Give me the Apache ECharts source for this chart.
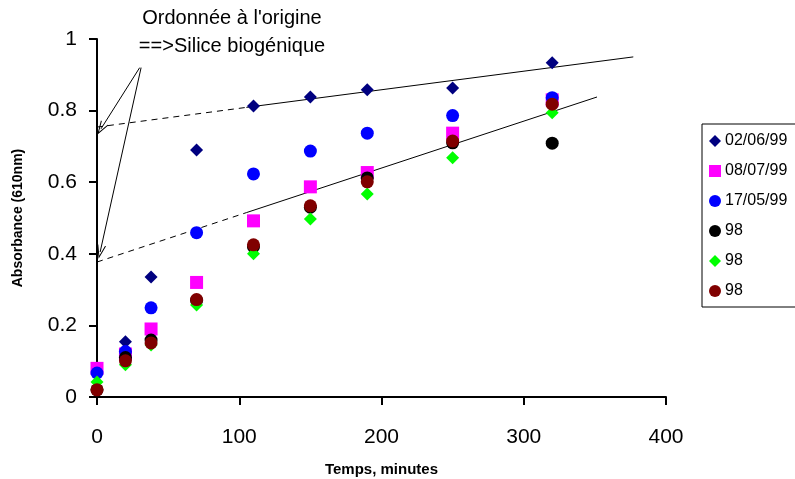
<!DOCTYPE html>
<html>
<head>
<meta charset="utf-8">
<script src="https://cdn.jsdelivr.net/npm/echarts@6/dist/echarts.min.js"></script>
<style>
  html, body { margin: 0; padding: 0; background: #fff; overflow: hidden; }
  #chart { width: 795px; height: 479px; }
</style>
</head>
<body>
<div id="chart"></div>
<script>
// temps (minutes)
const times = [0, 20, 38, 70, 110, 150, 190, 250, 320]

// absorbance per series (null = not visible)
const s020699 = [null, 0.154, 0.335, 0.69, 0.813, 0.838, 0.858, 0.863, 0.934]
const s080799 = [0.08, 0.12, 0.19, 0.32, 0.492, 0.587, 0.627, 0.737, 0.83]
const s170599 = [0.067, 0.127, 0.249, 0.459, 0.623, 0.687, 0.737, 0.786, 0.836]
const s98a = [0.02, 0.11, 0.159, 0.27, 0.42, 0.53, 0.612, 0.71, 0.709]
const s98b = [0.042, 0.09, 0.145, 0.257, 0.4, 0.497, 0.567, 0.668, 0.794]
const s98c = [0.02, 0.101, 0.151, 0.272, 0.425, 0.534, 0.601, 0.715, 0.818]

const seriesNames = ['02/06/99', '08/07/99', '17/05/99', '98', '98', '98']

// droites de tendance : [x, y]
const upperDashed = [[0, 0.754], [105, 0.809]]
const upperSolid = [[105, 0.809], [377, 0.95]]
const lowerDashed = [[0, 0.377], [105, 0.515]]
const lowerSolid = [[105, 0.515], [351.5, 0.838]]

// flèches de l'annotation
const arrowFrom = [30, 0.92]
const arrowTo1 = [2.8, 0.749]
const arrowTo2 = [2.2, 0.405]

// pointe de flèche ouverte (V)
const openArrow = 'path://M5,0 L10,13 L8.8,13 L5,3 L1.2,13 L0,13 Z'

const toPoints = (vals) => times.map((t, i) => [t, vals[i]]).filter(p => p[1] !== null)

const chart = echarts.init(document.getElementById('chart'))

function scatter(name, vals, symbol, size, color) {
  return {
    name: name,
    type: 'scatter',
    symbol: symbol,
    symbolSize: size,
    itemStyle: { color: color, opacity: 1 },
    data: toPoints(vals),
    z: 3
  }
}

function fitLine(data, dashed) {
  return {
    type: 'line',
    data: data,
    symbol: 'none',
    silent: true,
    lineStyle: { color: '#000', width: 1, type: dashed ? [6, 5] : 'solid' },
    z: 2
  }
}

chart.setOption({
  backgroundColor: '#fff',
  animation: false,
  textStyle: { fontFamily: 'Liberation Sans, Arial, sans-serif' },
  grid: {
    left: 97,
    top: 39,
    width: 569,
    height: 358,
    containLabel: false,
    outerBoundsMode: 'none'
  },
  graphic: [{
    type: 'text',
    x: 232,
    y: 4,
    style: {
      text: "Ordonnée à l'origine\n==>Silice biogénique",
      font: '20px Liberation Sans, Arial, sans-serif',
      fill: '#000',
      lineHeight: 28,
      align: 'center'
    }
  }],
  legend: {
    orient: 'vertical',
    left: 702,
    top: 124,
    padding: [9, 60, 8, 7],
    itemGap: 14,
    itemWidth: 12,
    itemHeight: 12,
    borderColor: '#000',
    borderWidth: 1,
    borderRadius: 0,
    textStyle: { fontSize: 16, color: '#000', padding: [0, 0, 0, -1] },
    data: [
      { name: '02/06/99', icon: 'diamond' },
      { name: '08/07/99', icon: 'rect' },
      { name: '17/05/99', icon: 'circle' },
      { name: '98', icon: 'circle' },
      { name: '98 ', icon: 'diamond' },
      { name: '98  ', icon: 'circle' }
    ]
  },
  xAxis: {
    type: 'value',
    min: 0,
    max: 400,
    interval: 100,
    name: 'Temps, minutes',
    nameLocation: 'middle',
    nameGap: 65,
    nameTextStyle: { fontSize: 15, fontWeight: 'bold', color: '#000' },
    axisLine: { onZero: false, lineStyle: { color: '#000', width: 2 } },
    axisTick: { show: true, length: 8, lineStyle: { color: '#000', width: 2 } },
    axisLabel: { fontSize: 21, color: '#000', margin: 30 },
    splitLine: { show: false }
  },
  yAxis: {
    type: 'value',
    min: 0,
    max: 1,
    interval: 0.2,
    name: 'Absorbance (610nm)',
    nameLocation: 'middle',
    nameRotate: 90,
    nameGap: 72,
    nameTextStyle: { fontSize: 14, fontWeight: 'bold', color: '#000' },
    axisLine: { show: true, onZero: false, lineStyle: { color: '#000', width: 2 } },
    axisTick: { show: true, length: 8, lineStyle: { color: '#000', width: 2 } },
    axisLabel: { fontSize: 21, color: '#000', margin: 20 },
    splitLine: { show: false }
  },
  series: [
    fitLine(upperDashed, true),
    fitLine(upperSolid, false),
    fitLine(lowerDashed, true),
    Object.assign(fitLine(lowerSolid, false), {
      markLine: {
        silent: true,
        symbol: ['none', openArrow],
        symbolSize: [9, 14],
        label: { show: false },
        lineStyle: { color: '#000', width: 1, type: 'solid' },
        data: [
          [{ coord: arrowFrom }, { coord: arrowTo1 }],
          [{ coord: [arrowFrom[0] + 1, arrowFrom[1]] }, { coord: arrowTo2 }]
        ]
      }
    }),
    scatter(seriesNames[0], s020699, 'diamond', 13, '#000080'),
    scatter(seriesNames[1], s080799, 'rect', 13, '#ff00ff'),
    scatter(seriesNames[2], s170599, 'circle', 13, '#0000ff'),
    scatter(seriesNames[3], s98a, 'circle', 13, '#000000'),
    scatter(seriesNames[4] + ' ', s98b, 'diamond', 13, '#00ff00'),
    scatter(seriesNames[5] + '  ', s98c, 'circle', 13, '#800000')
  ]
})
</script>
</body>
</html>
